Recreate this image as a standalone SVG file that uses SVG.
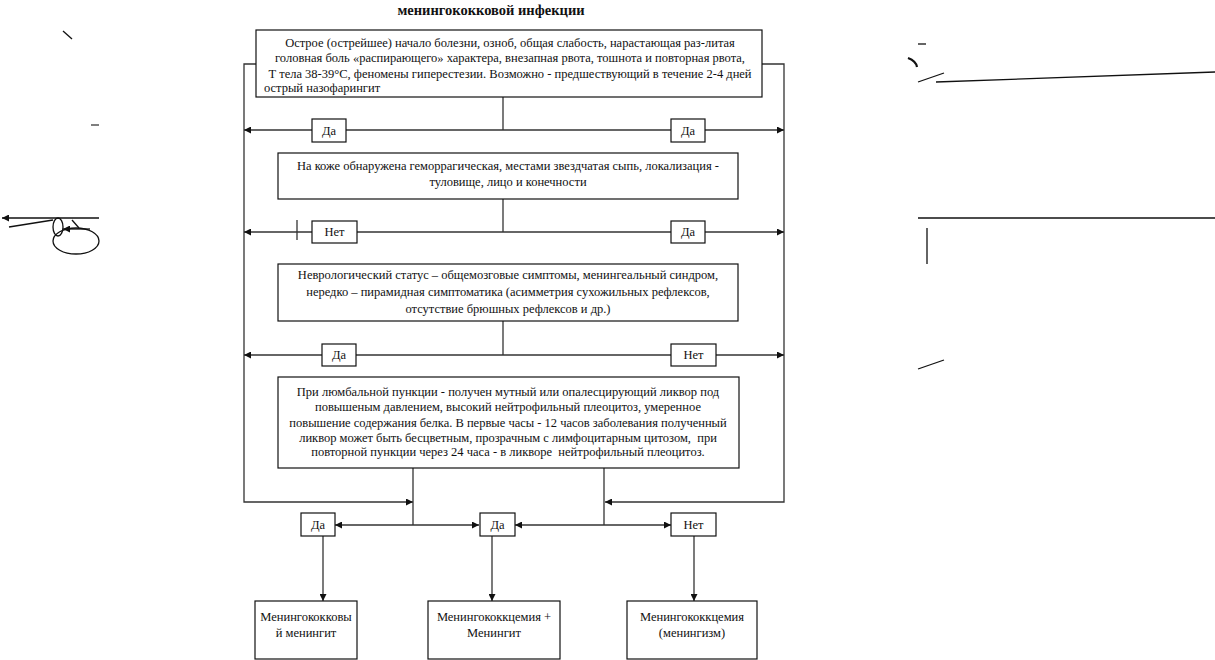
<svg xmlns="http://www.w3.org/2000/svg" width="1215" height="660" viewBox="0 0 1215 660">
<style>
.t{font-family:"Liberation Serif","Times New Roman",serif;font-size:12.5px;fill:#111;white-space:pre}
.c{text-anchor:middle}
.ttl{font-family:"Liberation Serif","Times New Roman",serif;font-size:14.5px;font-weight:bold;fill:#111;text-anchor:middle}
.box{fill:#fff;stroke:#111;stroke-width:1.2}
.ln{fill:none;stroke:#333;stroke-width:1.3}
.art{fill:none;stroke:#111;stroke-width:1.3}
</style>
<defs>
<marker id="ah" viewBox="0 0 10 10" refX="10" refY="5" markerUnits="userSpaceOnUse" markerWidth="9" markerHeight="7" orient="auto-start-reverse">
<path d="M0,0 L10,5 L0,10 z" fill="#111"/>
</marker>
</defs>
<rect width="1215" height="660" fill="#fff"/>
<text class="ttl" x="491" y="15">менингококковой инфекции</text>

<g id="connectors">
<polyline class="ln" points="256,64 244,64 244,502 413,502" marker-end="url(#ah)"/>
<polyline class="ln" points="762,64 784,64 784,502 605,502" marker-end="url(#ah)"/>
<line class="ln" x1="503" y1="97" x2="503" y2="130"/>
<line class="ln" x1="244" y1="130" x2="784" y2="130" marker-start="url(#ah)" marker-end="url(#ah)"/>
<line class="ln" x1="503" y1="199" x2="503" y2="232"/>
<line class="ln" x1="244" y1="232" x2="784" y2="232" marker-start="url(#ah)" marker-end="url(#ah)"/>
<line class="ln" x1="297" y1="220" x2="297" y2="240"/>
<line class="ln" x1="503" y1="321" x2="503" y2="355"/>
<line class="ln" x1="244" y1="355" x2="784" y2="355" marker-start="url(#ah)" marker-end="url(#ah)"/>
<line class="ln" x1="413" y1="468" x2="413" y2="525"/>
<line class="ln" x1="604" y1="468" x2="604" y2="525"/>
<line class="ln" x1="335" y1="525" x2="479" y2="525" marker-start="url(#ah)" marker-end="url(#ah)"/>
<line class="ln" x1="515" y1="525" x2="671" y2="525" marker-start="url(#ah)" marker-end="url(#ah)"/>
<line class="ln" x1="323" y1="536" x2="323" y2="601" marker-end="url(#ah)"/>
<line class="ln" x1="492" y1="536" x2="492" y2="601" marker-end="url(#ah)"/>
<line class="ln" x1="694" y1="536" x2="694" y2="601" marker-end="url(#ah)"/>
</g>

<g id="n1">
<rect class="box" x="256" y="30" width="506" height="67"/>
<text class="t c" x="510" y="47">Острое (острейшее) начало болезни, озноб, общая слабость, нарастающая раз-литая</text>
<text class="t c" x="510" y="62">головная боль «распирающего» характера, внезапная рвота, тошнота и повторная рвота,</text>
<text class="t c" x="510" y="78">Т тела 38-39°С, феномены гиперестезии. Возможно - предшествующий в течение 2-4 дней</text>
<text class="t" x="264" y="92">острый назофарингит</text>
</g>
<g id="l1a"><rect class="box" x="312" y="119" width="34" height="23"/><text class="t c" x="329" y="135">Да</text></g>
<g id="l1b"><rect class="box" x="671" y="119" width="34" height="23"/><text class="t c" x="688" y="135">Да</text></g>

<g id="n2">
<rect class="box" x="278" y="153" width="460" height="46"/>
<text class="t c" x="508" y="170">На коже обнаружена геморрагическая, местами звездчатая сыпь, локализация -</text>
<text class="t c" x="508" y="186">туловище, лицо и конечности</text>
</g>
<g id="l2a"><rect class="box" x="312" y="221" width="45" height="22"/><text class="t c" x="334.5" y="236">Нет</text></g>
<g id="l2b"><rect class="box" x="671" y="221" width="34" height="22"/><text class="t c" x="688" y="236">Да</text></g>

<g id="n3">
<rect class="box" x="278" y="264" width="460" height="57"/>
<text class="t c" x="508" y="279">Неврологический статус – общемозговые симптомы, менингеальный синдром,</text>
<text class="t c" x="508" y="296">нередко – пирамидная симптоматика (асимметрия сухожильных рефлексов,</text>
<text class="t c" x="508" y="313">отсутствие брюшных рефлексов и др.)</text>
</g>
<g id="l3a"><rect class="box" x="322" y="344" width="34" height="22"/><text class="t c" x="339" y="359">Да</text></g>
<g id="l3b"><rect class="box" x="671" y="344" width="45" height="22"/><text class="t c" x="693.5" y="359">Нет</text></g>

<g id="n4">
<rect class="box" x="278" y="377" width="461" height="91"/>
<text class="t c" x="508" y="396">При люмбальной пункции - получен мутный или опалесцирующий ликвор под</text>
<text class="t c" x="508" y="411">повышеным давлением, высокий нейтрофильный плеоцитоз, умеренное</text>
<text class="t c" x="508" y="427">повышение содержания белка. В первые часы - 12 часов заболевания полученный</text>
<text class="t c" x="508" y="442">ликвор может быть бесцветным, прозрачным с лимфоцитарным цитозом,  при</text>
<text class="t c" x="508" y="456">повторной пункции через 24 часа - в ликворе  нейтрофильный плеоцитоз.</text>
</g>

<g id="l4a"><rect class="box" x="301" y="513" width="34" height="23"/><text class="t c" x="318" y="529">Да</text></g>
<g id="l4b"><rect class="box" x="480" y="513" width="35" height="23"/><text class="t c" x="497.5" y="529">Да</text></g>
<g id="l4c"><rect class="box" x="671" y="513" width="45" height="23"/><text class="t c" x="693.5" y="529">Нет</text></g>

<g id="r1">
<rect class="box" x="255" y="601" width="102" height="58"/>
<text class="t c" x="306" y="621">Менингококковы</text>
<text class="t c" x="306" y="637">й менингит</text>
</g>
<g id="r2">
<rect class="box" x="428" y="601" width="132" height="58"/>
<text class="t c" x="494" y="621">Менингококкцемия +</text>
<text class="t c" x="494" y="637">Менингит</text>
</g>
<g id="r3">
<rect class="box" x="627" y="601" width="130" height="58"/>
<text class="t c" x="692" y="621">Менингококкцемия</text>
<text class="t c" x="692" y="637">(менингизм)</text>
</g>

<g id="artifacts">
<line class="art" x1="63" y1="31" x2="72" y2="39"/>
<line x1="91" y1="125" x2="99" y2="125" stroke="#555" stroke-width="1.5"/>
<line class="art" x1="99" y1="218" x2="2" y2="218" marker-end="url(#ah)"/>
<line class="art" x1="9" y1="227" x2="53" y2="220"/>
<ellipse class="art" cx="58" cy="227" rx="5" ry="9"/>
<ellipse class="art" cx="76" cy="241" rx="23" ry="13"/>
<line class="art" x1="72" y1="220" x2="79" y2="228"/>
<line class="art" x1="90" y1="229" x2="63" y2="229" marker-end="url(#ah)"/>
<line class="art" x1="918" y1="44" x2="926" y2="44"/>
<path d="M908,58 Q916,61 917,67" fill="none" stroke="#111" stroke-width="2.2"/>
<line class="art" x1="918" y1="82" x2="944" y2="73"/>
<line class="art" x1="936" y1="82" x2="1215" y2="72"/>
<line class="art" x1="918" y1="218" x2="1215" y2="218"/>
<line class="art" x1="927" y1="228" x2="927" y2="264"/>
<line class="art" x1="918" y1="369" x2="944" y2="360"/>
</g>
</svg>
